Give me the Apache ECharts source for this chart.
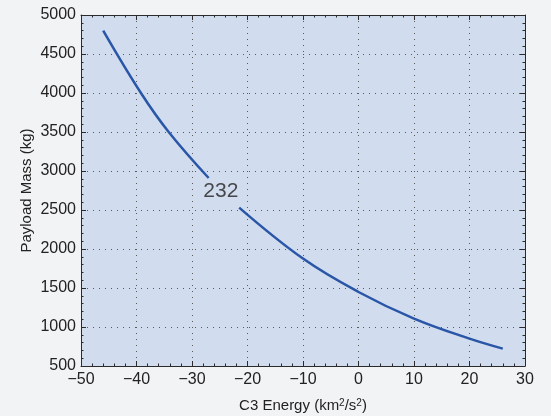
<!DOCTYPE html>
<html>
<head>
<meta charset="utf-8">
<script src="https://cdn.jsdelivr.net/npm/echarts@6/dist/echarts.min.js"></script>
<style>
html,body{margin:0;padding:0;background:#f2f3f5;}
#chart{width:551px;height:416px;}
</style>
</head>
<body>
<div id="chart"></div>
<script>
// Data
var c3Seg1 = [-46, -39.2, -34.2, -27];
var massSeg1 = [4800, 4000, 3500, 2910];
var c3Seg2 = [-21.5, -10, 0, 10, 20, 26];
var massSeg2 = [2531, 1877, 1449, 1108, 851, 723];
var contourLabelPos = [-24.8, 2735];
var contourLabelText = '232';
var xTicks = [-50, -40, -30, -20, -10, 0, 10, 20, 30];
var yTicks = [500, 1000, 1500, 2000, 2500, 3000, 3500, 4000, 4500, 5000];

function pairs(xs, ys) {
  return xs.map(function (x, i) { return [x, ys[i]]; });
}

var font = '"Liberation Sans", Arial, Helvetica, sans-serif';
var axisColor = '#2b2b2b';

function baseAxis(extra) {
  var o = {
    type: 'value',
    axisLine: { show: true, onZero: false, lineStyle: { color: axisColor, width: 1 } },
    axisTick: { show: true, inside: true, length: 5, lineStyle: { color: axisColor, width: 1 } },
    minorTick: { show: true, splitNumber: 5, length: 2.5, lineStyle: { color: axisColor, width: 1 } },
    splitLine: { show: false },
    axisLabel: { show: false }
  };
  for (var k in extra) o[k] = extra[k];
  return o;
}

var chart = echarts.init(document.getElementById('chart'), null, { renderer: 'canvas' });

chart.setOption({
  backgroundColor: '#f2f3f5',
  animation: false,
  textStyle: { fontFamily: font },
  grid: {
    left: 81, top: 15, right: 26, bottom: 50,
    containLabel: false, outerBoundsMode: 'none',
    show: true, backgroundColor: '#d1dcee', borderWidth: 0
  },
  xAxis: [
    baseAxis({
      position: 'bottom',
      min: xTicks[0], max: xTicks[xTicks.length - 1], interval: 10,
      axisLabel: {
        show: true, fontSize: 16, color: '#222', margin: 6, fontFamily: font,
        formatter: function (v) { return v < 0 ? '\u2212' + Math.abs(v) : String(v); }
      },
      splitLine: { show: true, lineStyle: { color: '#5a5a5a', width: 1, type: [1, 5] } },
      name: 'C3 Energy (km{sup|2}/s{sup|2})',
      nameLocation: 'middle',
      nameMoveOverlap: false,
      nameGap: 32,
      nameTextStyle: {
        fontSize: 15, color: '#222', fontFamily: font,
        rich: {
          sup: { fontSize: 10, verticalAlign: 'top', color: '#222', fontFamily: font, padding: [0, 0, 6, 0] }
        }
      }
    }),
    baseAxis({
      position: 'top',
      min: xTicks[0], max: xTicks[xTicks.length - 1], interval: 10
    })
  ],
  yAxis: [
    baseAxis({
      position: 'left',
      min: yTicks[0], max: yTicks[yTicks.length - 1], interval: 500,
      axisLabel: {
        show: true, fontSize: 16, color: '#222', margin: 5, fontFamily: font,
        formatter: function (v) { return String(v); }
      },
      splitLine: { show: true, lineStyle: { color: '#5a5a5a', width: 1, type: [1, 5] } },
      name: 'Payload Mass (kg)',
      nameLocation: 'middle',
      nameMoveOverlap: false,
      nameGap: 47,
      nameTextStyle: { fontSize: 15, color: '#222', fontFamily: font }
    }),
    baseAxis({
      position: 'right',
      min: yTicks[0], max: yTicks[yTicks.length - 1], interval: 500
    })
  ],
  series: [
    {
      type: 'line', xAxisIndex: 0, yAxisIndex: 0,
      data: pairs(c3Seg1, massSeg1),
      smooth: 0.4, showSymbol: false,
      lineStyle: { color: '#2a56a8', width: 2.5 }
    },
    {
      type: 'line', xAxisIndex: 0, yAxisIndex: 0,
      data: pairs(c3Seg2, massSeg2),
      smooth: 0.4, showSymbol: false,
      lineStyle: { color: '#2a56a8', width: 2.5 }
    },
    {
      type: 'scatter', xAxisIndex: 0, yAxisIndex: 0,
      data: [contourLabelPos],
      symbolSize: 1,
      itemStyle: { color: 'rgba(0,0,0,0)' },
      label: {
        show: true, position: 'inside', formatter: contourLabelText,
        fontSize: 21, color: '#222', fontFamily: font
      },
      silent: true
    }
  ]
});
</script>
</body>
</html>
